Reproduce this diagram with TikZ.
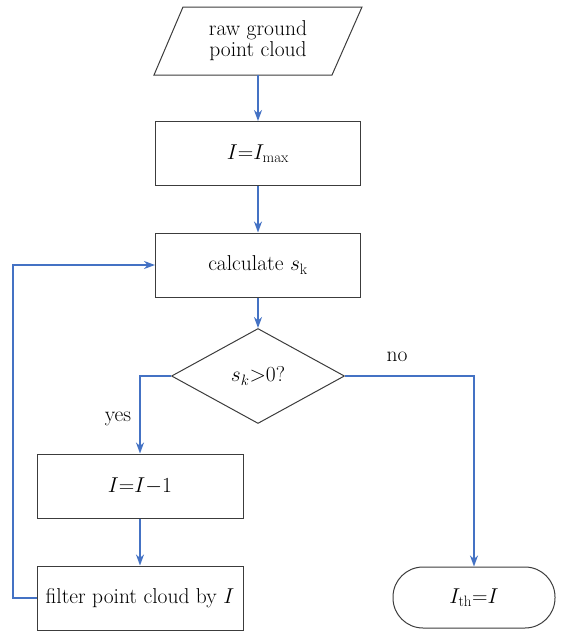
\RequirePackage{fix-cm}
\documentclass[tikz,border=0pt]{standalone}
\usepackage{fontspec}
\usetikzlibrary{shapes.geometric,arrows.meta}
\definecolor{flowblue}{HTML}{4472C4}
\definecolor{boxline}{HTML}{3C3C3C}
\begin{document}
\begin{tikzpicture}[x=1pt,y=-1pt,
  every node/.style={font=\fontsize{21.5}{21}\selectfont},
  procbox/.style={draw=boxline,line width=1pt,rectangle,inner sep=0pt,minimum width=205pt,minimum height=64pt},
  decbox/.style={draw=boxline,line width=1pt,diamond,aspect=1.82,inner sep=0pt,minimum width=173pt,minimum height=95pt},
  termbox/.style={draw=boxline,line width=1pt,rectangle,rounded corners=30pt,inner sep=0pt,minimum width=162pt,minimum height=61pt},
  flow/.style={draw=flowblue,line width=1.7pt,-{Stealth[length=11pt,width=8pt,inset=3.5pt]}},
  lbl/.style={inner sep=0pt}]
\useasboundingbox (0,0) rectangle (564,632);
% input parallelogram
\draw[draw=boxline,line width=1pt] (183,7) -- (362,7) -- (332,75) -- (154,75) -- cycle;
\node[align=center,inner sep=0pt] (in) at (258,41) {raw ground\\point cloud};
\coordinate (inb) at (258,75);
\node[procbox] (b1) at (258,153.5) {$I{=}I_{\mathrm{max}}$};
\node[procbox] (b2) at (258,265) {calculate $s_{\mathrm{k}}$};
\node[decbox] (d) at (258,376) {$s_k{>}0$?};
\node[procbox,minimum width=206pt] (b3) at (140,486) {$I{=}I{-}1$};
\node[procbox,minimum width=206pt] (b4) at (140,598) {filter point cloud by $I$};
\node[termbox] (t) at (474,597.5) {$I_{\mathrm{th}}{=}I$};
\coordinate (yc) at (140,376);
\coordinate (nc) at (474,376);
\coordinate (fb1) at (13,598);
\coordinate (fb2) at (13,265);
\node[lbl] (yes) at (118,419) {yes};
\node[lbl] (no) at (397,357) {no};
\draw[flow] (inb) -- (b1.north);
\draw[flow] (b1) -- (b2);
\draw[flow] (b2) -- (d);
\draw[flow] (d.west) -- (yc) -- (b3.north);
\draw[flow] (d.east) -- (nc) -- (t.north);
\draw[flow] (b3) -- (b4);
\draw[flow] (b4.west) -- (fb1) -- (fb2) -- (b2.west);
\end{tikzpicture}
\end{document}
